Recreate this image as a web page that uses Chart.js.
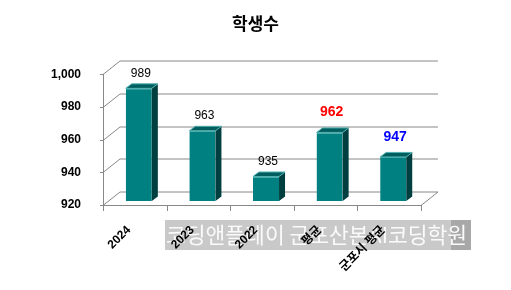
<!DOCTYPE html>
<html>
<head>
<meta charset="utf-8">
<script src="https://cdn.jsdelivr.net/npm/chart.js@4/dist/chart.umd.min.js"></script>
<style>
  body { margin: 0; background: #fff; }
</style>
</head>
<body>
<canvas id="studentChart" width="511" height="290"></canvas>
<script>
const categories = ['2024', '2023', '2022', '평균', '군포시 평균'];
const students = [989, 963, 935, 962, 947];
const yTicks = [920, 940, 960, 980, 1000];
const valueColors = ['#000000', '#000000', '#000000', '#ff0000', '#0000ff'];
const valueBold = [false, false, false, true, true];

const FONT = '"Liberation Sans", Arial, "Noto Sans CJK KR", sans-serif';
const KFONT = '"Noto Sans CJK KR", "Liberation Sans", sans-serif';

// 3d depth of the box and of the bars
const FRONT = { dx: -4, dy: 4 };
const BACK = { dx: 13, dy: -9.5 };
const BAR_DEPTH = { dx: 6, dy: -4.5 };

const watermark = {
  id: 'watermark',
  beforeDraw(chart) {
    const ctx = chart.ctx;
    ctx.save();
    ctx.fillStyle = '#ffffff';
    ctx.fillRect(0, 0, chart.width, chart.height);
    ctx.fillStyle = '#c9c9c9';
    ctx.fillRect(165, 220, 306, 30);
    ctx.fillStyle = '#a8a8a8';
    ctx.fillRect(451, 220, 20, 30);
    ctx.fillStyle = '#fafafa';
    ctx.font = '21.5px ' + KFONT;
    ctx.textBaseline = 'middle';
    ctx.fillText('코딩앤플레이 군포산본AI코딩학원', 166, 235, 304);
    ctx.restore();
  }
};

const box3d = {
  id: 'box3d',
  beforeDatasetsDraw(chart) {
    const ctx = chart.ctx;
    const y = chart.scales.y;
    const area = chart.chartArea;
    ctx.save();
    ctx.strokeStyle = '#888888';
    ctx.lineWidth = 1;
    ctx.beginPath();
    yTicks.forEach(v => {
      const p = Math.round(y.getPixelForValue(v));
      if (v === yTicks[0]) return;
      ctx.moveTo(area.left + FRONT.dx, p + FRONT.dy + 0.5);
      ctx.lineTo(area.left + BACK.dx, p + BACK.dy + 0.5);
      ctx.lineTo(area.right + BACK.dx, p + BACK.dy + 0.5);
      ctx.moveTo(area.left + FRONT.dx - 3, p + FRONT.dy + 0.5);
      ctx.lineTo(area.left + FRONT.dx, p + FRONT.dy + 0.5);
    });
    // floor
    const b = Math.round(y.getPixelForValue(yTicks[0]));
    ctx.moveTo(area.left + FRONT.dx - 3, b + FRONT.dy + 0.5);
    ctx.lineTo(area.right + FRONT.dx, b + FRONT.dy + 0.5);
    ctx.lineTo(area.right + BACK.dx, b + BACK.dy + 0.5);
    ctx.lineTo(area.left + BACK.dx, b + BACK.dy + 0.5);
    ctx.lineTo(area.left + FRONT.dx, b + FRONT.dy + 0.5);
    // front vertical axis
    const t = Math.round(y.getPixelForValue(yTicks[yTicks.length - 1]));
    ctx.moveTo(area.left + FRONT.dx + 0.5, t + FRONT.dy);
    ctx.lineTo(area.left + FRONT.dx + 0.5, b + FRONT.dy + 6);
    // category ticks
    const step = (area.right - area.left) / categories.length;
    for (let i = 1; i <= categories.length; i++) {
      const px = Math.round(area.left + step * i + FRONT.dx) + 0.5;
      ctx.moveTo(px, b + FRONT.dy);
      ctx.lineTo(px, b + FRONT.dy + 6);
    }
    ctx.stroke();
    ctx.restore();
  },
  afterDatasetsDraw(chart) {
    const ctx = chart.ctx;
    const meta = chart.getDatasetMeta(0);
    const base = chart.scales.y.getPixelForValue(yTicks[0]);
    ctx.save();
    meta.data.forEach((bar, i) => {
      const l = bar.x - bar.width / 2;
      const r = bar.x + bar.width / 2;
      const top = bar.y;
      // side
      ctx.fillStyle = '#003f3f';
      ctx.beginPath();
      ctx.moveTo(r, top);
      ctx.lineTo(r + BAR_DEPTH.dx, top + BAR_DEPTH.dy);
      ctx.lineTo(r + BAR_DEPTH.dx, base + BAR_DEPTH.dy);
      ctx.lineTo(r, base);
      ctx.closePath();
      ctx.fill();
      // top
      ctx.fillStyle = '#005e5e';
      ctx.strokeStyle = '#4fb0b0';
      ctx.lineWidth = 1;
      ctx.beginPath();
      ctx.moveTo(l, top);
      ctx.lineTo(l + BAR_DEPTH.dx, top + BAR_DEPTH.dy);
      ctx.lineTo(r + BAR_DEPTH.dx, top + BAR_DEPTH.dy);
      ctx.lineTo(r, top);
      ctx.closePath();
      ctx.fill();
      ctx.stroke();
      // value label
      const bold = valueBold[i];
      ctx.fillStyle = valueColors[i];
      ctx.font = (bold ? 'bold 14px ' : '12px ') + FONT;
      ctx.textAlign = 'center';
      ctx.textBaseline = 'middle';
      ctx.fillText(String(students[i]), bar.x + 2, top - (bold ? 20 : 15));
    });
    ctx.restore();
  }
};

const ctx = document.getElementById('studentChart').getContext('2d');
new Chart(ctx, {
  type: 'bar',
  data: {
    labels: categories,
    datasets: [{
      data: students,
      backgroundColor: '#008080',
      borderColor: '#3fa9a9',
      borderWidth: { top: 1, bottom: 1, left: 0, right: 0 },
      borderSkipped: false,
      categoryPercentage: 1,
      barPercentage: 0.41
    }]
  },
  options: {
    responsive: false,
    animation: false,
    layout: { padding: 0 },
    plugins: {
      legend: { display: false },
      tooltip: { enabled: false },
      title: {
        display: true,
        text: '학생수',
        color: '#000',
        font: { family: KFONT, size: 17, weight: 'bold' },
        padding: { top: 13, bottom: 37 }
      }
    },
    scales: {
      x: {
        grid: { display: false },
        border: { display: false },
        ticks: {
          autoSkip: false,
          minRotation: 45,
          maxRotation: 45,
          padding: 14,
          labelOffset: -10,
          color: '#000',
          font: { family: FONT, size: 12, weight: 'bold' }
        },
        afterFit(scale) { scale.height = 89; }
      },
      y: {
        min: 920,
        max: 1000,
        grid: { display: false },
        border: { display: false },
        ticks: {
          stepSize: 20,
          padding: 18,
          labelOffset: 4,
          color: '#000',
          font: { family: FONT, size: 12, weight: 'bold' },
          callback: v => v.toLocaleString('en-US')
        },
        afterFit(scale) { scale.width = 107; }
      },
      // empty right axis keeps the plot off the right edge
      spacer: {
        position: 'right',
        grid: { display: false },
        border: { display: false },
        ticks: { display: false },
        afterFit(scale) { scale.width = 86; }
      }
    }
  },
  plugins: [watermark, box3d]
});
</script>
</body>
</html>
